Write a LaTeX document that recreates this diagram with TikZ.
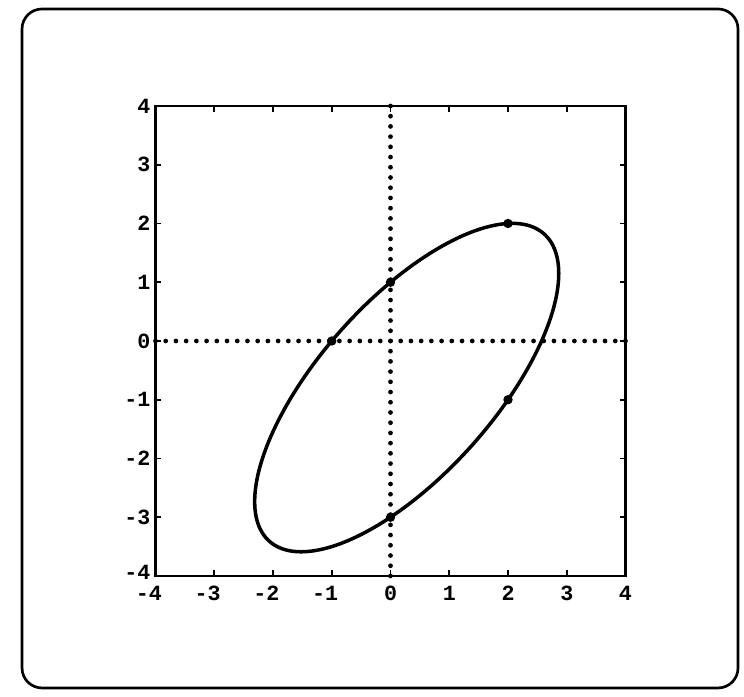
\documentclass[tikz,border=0pt]{standalone}
\usepackage{fontspec}
\newfontfamily\tickfont{Liberation Mono}
\begin{document}
\begin{tikzpicture}[
  frame/.style={line width=1.3pt, rounded corners=0.34cm},
  plotbox/.style={line width=1.4pt},
  tickmark/.style={line width=0.9pt},
  dotline/.style={line width=2.3pt, line cap=round, dash pattern=on 0pt off 0.1739cm},
  curve/.style={line width=1.7pt},
  dotpt/.style={circle, fill=black, inner sep=0pt, minimum size=0.16cm},
  ticklab/.style={font=\tickfont\bfseries\fontsize{10.5}{12}\selectfont, inner sep=0pt},
]
\useasboundingbox (-6.647,-6.043) rectangle (6.017,5.804);
% outer frame
\draw[frame] (-6.272,-5.906) rectangle (5.915,5.651);
% plot box
\draw[plotbox] (-4,-4) rectangle (4,4);
% ticks
\foreach \i in {-3,...,3} {
  \draw[tickmark] (\i,-4) -- ++(0,0.1);
  \draw[tickmark] (\i,4) -- ++(0,-0.1);
  \draw[tickmark] (-4,\i) -- ++(0.1,0);
  \draw[tickmark] (4,\i) -- ++(-0.1,0);
}
% tick labels
\foreach \i in {-3,...,4} {
  \node[ticklab, anchor=east] (ylab\i) at (-4.08,\i) {\i};
}
\node[ticklab, anchor=east] (ylab-4) at (-4.08,-3.93) {-4};
\foreach \i in {-4,...,4} {
  \pgfmathtruncatemacro\a{abs(\i)}
  \node[ticklab, anchor=north] (xlab\i) at (\i,-4.16) {\ifnum\i<0 \llap{-}\fi\a};
}
% dotted axes
\coordinate (xl) at (-4,0);
\coordinate (xr) at (4,0);
\coordinate (yb) at (0,-4);
\coordinate (yt) at (0,4);
\draw[dotline] (xl) -- (xr);
\draw[dotline] (yt) -- (yb);
% ellipse 7x^2-9xy+6y^2-11x+12y-18=0
\draw[curve] plot[domain=0:356, samples=90, smooth cycle]
  ({0.2759+2.588*cos(\x)}, {-0.7931+1.941*cos(\x)+2.0115*sin(\x)});
% marked points
\node[dotpt] (p1) at (2,2) {};
\node[dotpt] (p2) at (0,1) {};
\node[dotpt] (p3) at (-1,0) {};
\node[dotpt] (p4) at (2,-1) {};
\node[dotpt] (p5) at (0,-3) {};
\end{tikzpicture}
\end{document}
